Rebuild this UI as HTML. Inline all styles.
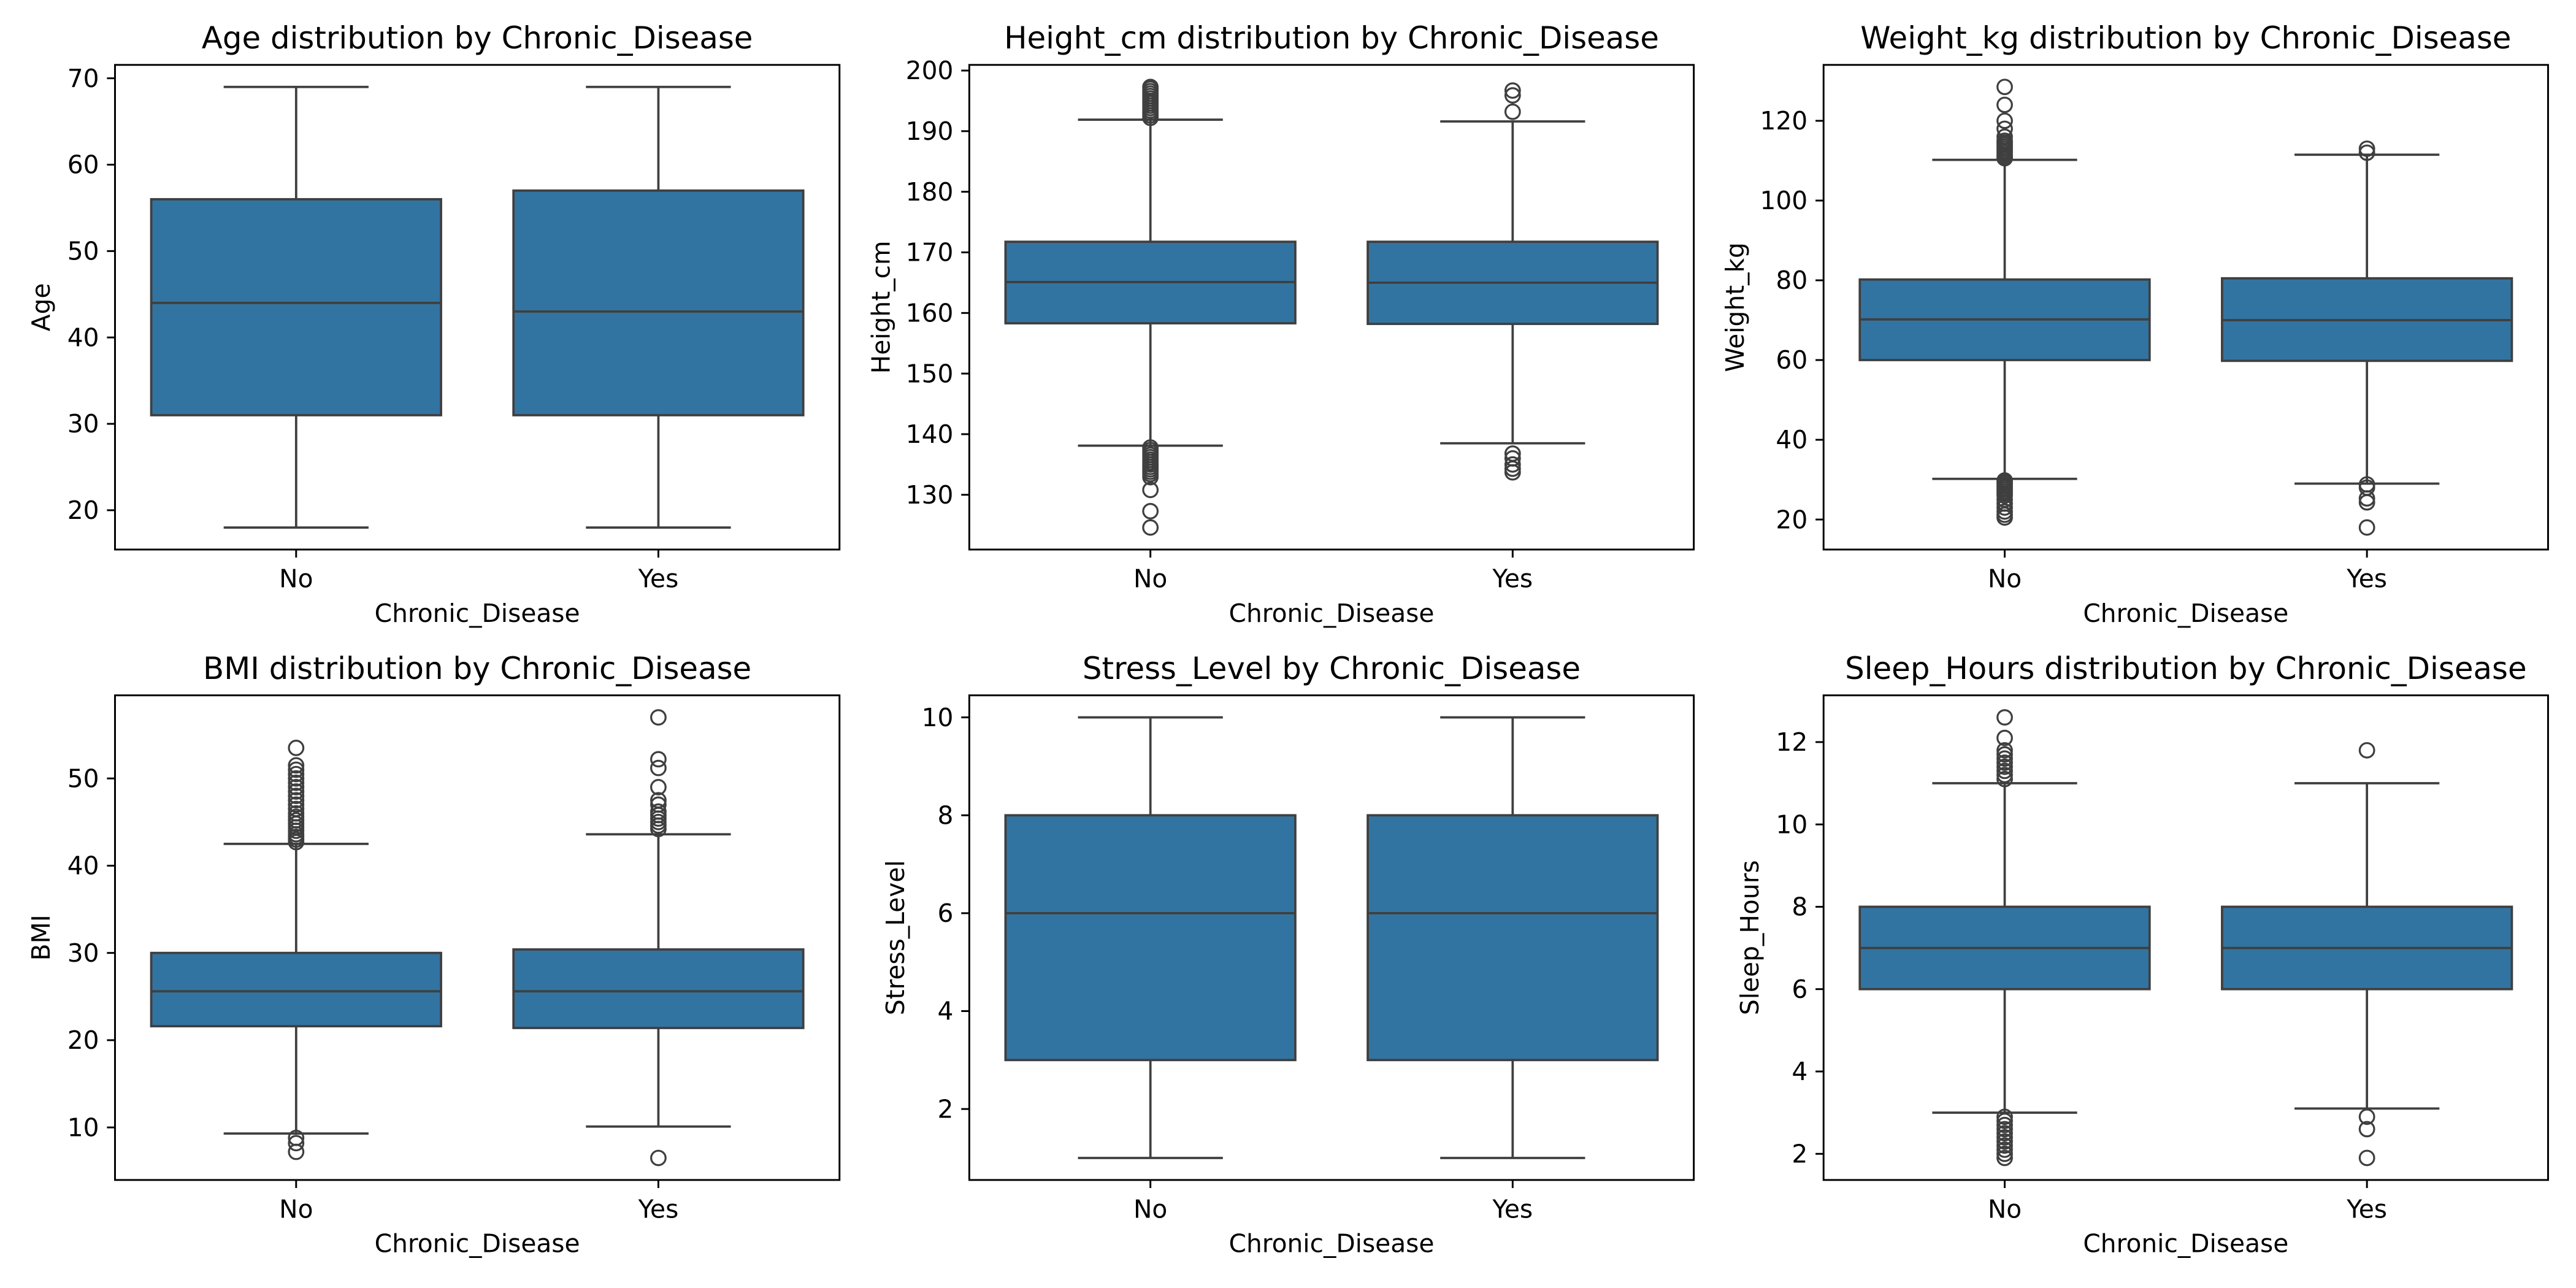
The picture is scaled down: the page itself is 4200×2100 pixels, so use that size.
<!DOCTYPE html>
<html><head><meta charset="utf-8"><style>
html,body{margin:0;padding:0;background:#fff;}
svg{display:block;}
text{font-family:"DejaVu Sans","Liberation Sans",sans-serif;fill:#000;}
</style></head><body>
<svg id="fig" xmlns="http://www.w3.org/2000/svg" width="4200" height="2100" viewBox="0 0 1568 784">
<rect x="0" y="0" width="1568" height="784" fill="#fff"/>
</svg>
<script>
const categories = ["No", "Yes"];
const panelTitles = ["Age distribution by Chronic_Disease","Height_cm distribution by Chronic_Disease","Weight_kg distribution by Chronic_Disease","BMI distribution by Chronic_Disease","Stress_Level by Chronic_Disease","Sleep_Hours distribution by Chronic_Disease"];
const yLabels = ["Age","Height_cm","Weight_kg","BMI","Stress_Level","Sleep_Hours"];
const yTicks = [[20,30,40,50,60,70],[130,140,150,160,170,180,190,200],[20,40,60,80,100,120],[10,20,30,40,50],[2,4,6,8,10],[2,4,6,8,10,12]];
// [whiskerLow, Q1, median, Q3, whiskerHigh] for No, Yes
const ageStats = [[18,31,44,56,69],[18,31,43,57,69]];
const heightStats = [[138.1,158.3,165.1,171.75,191.9],[138.5,158.2,165.0,171.75,191.6]];
const weightStats = [[30.2,60,70.2,80.2,110.2],[29,59.8,70,80.5,111.5]];
const bmiStats = [[9.3,21.6,25.6,30,42.5],[10.1,21.4,25.6,30.4,43.6]];
const stressStats = [[1,3,6,8,10],[1,3,6,8,10]];
const sleepStats = [[3,6,7,8,11],[3.1,6,7,8,11]];
const ageOutliers = [[],[]];
const heightOutliers = [[192.2,192.6,193,193.4,193.8,194.2,194.6,195,195.4,195.8,196.2,196.6,197,197.3,137.8,137.4,137,136.6,136.2,135.8,135.4,135,134.6,134.2,133.8,133.4,132.9,130.8,127.3,124.6],[196.7,195.9,193.2,136.8,136,135,134.3,133.7]];
const weightOutliers = [[110.6,111,111.5,112,112.5,113,113.5,114,114.5,115,116,118,120,124,128.5,29.8,29.4,29,28.5,28,27.5,27,26.5,26,25,24,23,22,21.2,20.5],[112,113,28.8,28,25.3,24.3,18]];
const bmiOutliers = [[42.7,43,43.3,43.6,44,44.4,44.8,45.2,45.6,46,46.5,47,47.5,48,48.5,49,49.5,50,50.5,51,51.5,53.5,8.8,8.2,7.2],[44.2,44.6,45,45.4,45.8,46.2,47,47.5,49,51.2,52.2,57,6.5]];
const stressOutliers = [[],[]];
const sleepOutliers = [[11.1,11.2,11.3,11.4,11.5,11.6,11.7,11.8,12.1,12.6,2.9,2.8,2.7,2.6,2.5,2.4,2.3,2.2,2.1,2.0,1.9],[11.8,2.9,2.6,1.9]];

const allStats = [ageStats,heightStats,weightStats,bmiStats,stressStats,sleepStats];
const allOutliers = [ageOutliers,heightOutliers,weightOutliers,bmiOutliers,stressOutliers,sleepOutliers];

const NS = "http://www.w3.org/2000/svg";
const svg = document.getElementById("fig");
function mk(tag, attrs, parent){ const e=document.createElementNS(NS,tag); for(const k in attrs) e.setAttribute(k,attrs[k]); (parent||svg).appendChild(e); return e; }

const colLeft=[70,590,1110], rowTop=[39.5,423.25], W=441, H=295;
for(let p=0;p<6;p++){
  const L=colLeft[p%3], T=rowTop[Math.floor(p/3)], B=T+H;
  const stats=allStats[p], outs=allOutliers[p];
  let mn=Infinity,mx=-Infinity;
  stats.forEach((s,i)=>{ s.forEach(v=>{mn=Math.min(mn,v);mx=Math.max(mx,v);}); outs[i].forEach(v=>{mn=Math.min(mn,v);mx=Math.max(mx,v);}); });
  const pad=(mx-mn)*0.05, y0=mn-pad, y1=mx+pad;
  const ys=v=>B-(v-y0)/(y1-y0)*H;
  const xs=c=>L+(c+0.5)/2*W;
  const g=mk("g",{});
  
  
  categories.forEach((cat,i)=>{
    const s=stats[i], cx=xs(i), bw=W/2*0.8, cw=bw/2;
    const bg=mk("g",{},g);
    
    
    mk("line",{x1:cx,x2:cx,y1:ys(s[0]),y2:ys(s[1]),stroke:"#3f3f3f","stroke-width":1.4},bg);
    mk("line",{x1:cx,x2:cx,y1:ys(s[3]),y2:ys(s[4]),stroke:"#3f3f3f","stroke-width":1.4},bg);
    mk("line",{x1:cx-cw/2,x2:cx+cw/2,y1:ys(s[0]),y2:ys(s[0]),stroke:"#3f3f3f","stroke-width":1.4},bg);
    mk("line",{x1:cx-cw/2,x2:cx+cw/2,y1:ys(s[4]),y2:ys(s[4]),stroke:"#3f3f3f","stroke-width":1.4},bg);
    mk("rect",{x:cx-bw/2,y:ys(s[3]),width:bw,height:ys(s[1])-ys(s[3]),fill:"#3274a1",stroke:"#3f3f3f","stroke-width":1.4},bg);
    mk("line",{x1:cx-bw/2,x2:cx+bw/2,y1:ys(s[2]),y2:ys(s[2]),stroke:"#3f3f3f","stroke-width":1.4},bg);
    outs[i].forEach(v=>{
      const c=mk("circle",{cx:cx,cy:ys(v),r:4.4,fill:"none",stroke:"#3f3f3f","stroke-width":1.2},bg);
      
      
    });
    mk("line",{x1:cx,x2:cx,y1:B,y2:B+4.9,stroke:"#000","stroke-width":1.1},g);
    const t=mk("text",{x:cx,y:B+23,"text-anchor":"middle","font-size":15.2},g); t.textContent=cat;
    
    
  });
  let maxLen=0;
  yTicks[p].forEach(v=>{
    const y=ys(v);
    mk("line",{x1:L-4.9,x2:L,y1:y,y2:y,stroke:"#000","stroke-width":1.1},g);
    const t=mk("text",{x:L-9.7,y:y+5.3,"text-anchor":"end","font-size":15.2},g); t.textContent=String(v);
    
    
    maxLen=Math.max(maxLen,String(v).length);
  });
  const fr=mk("rect",{x:L,y:T,width:W,height:H,fill:"none",stroke:"#000","stroke-width":1.1},g);
  
  
  const ti=mk("text",{x:L+W/2,y:T-10,"text-anchor":"middle","font-size":18.6},g); ti.textContent=panelTitles[p];
  
  
  const xl=mk("text",{x:L+W/2,y:B+44,"text-anchor":"middle","font-size":15.2},g); xl.textContent="Chronic_Disease";
  
  
  const yx=L-27-maxLen*8.85+5, yc=T+H/2;
  const yl=mk("text",{x:yx,y:yc,"text-anchor":"middle","font-size":15.2,transform:`rotate(-90 ${yx} ${yc})`},g); yl.textContent=yLabels[p];
  
  
}
</script>
</body></html>
